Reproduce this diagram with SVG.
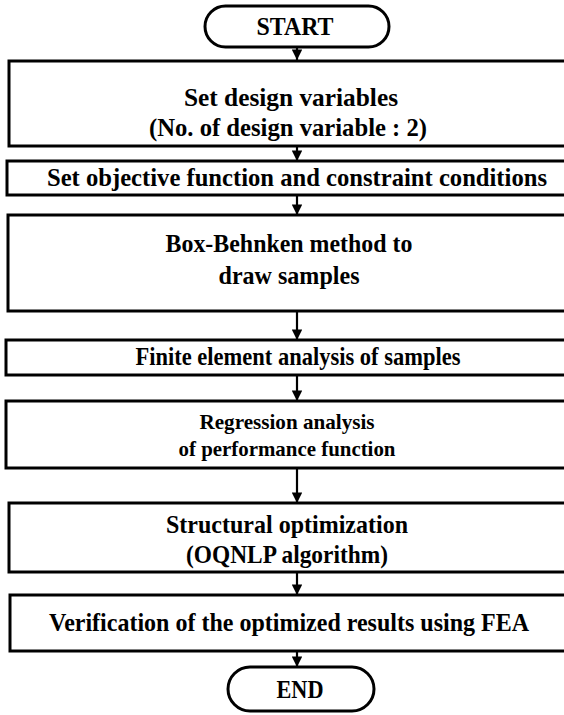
<svg xmlns="http://www.w3.org/2000/svg" width="564" height="715" viewBox="0 0 564 715">
<defs>
<style>
.box{fill:#fff;stroke:#000;stroke-width:3}
.t{font-family:"Liberation Serif","Times New Roman",serif;font-weight:bold;font-size:24.5px;fill:#000;text-anchor:middle}
.s{font-size:22px}
.c{stroke:#000;stroke-width:2.2;fill:none}
</style>
<marker id="ah" viewBox="0 0 10 10" refX="10" refY="5" markerWidth="4.8" markerHeight="4.8" markerUnits="strokeWidth" orient="auto">
<path d="M0,0 L10,5 L0,10 Z" fill="#000"/>
</marker>
</defs>
<rect width="564" height="715" fill="#fff"/>
<g id="connectors">
<line class="c" x1="297" y1="47" x2="297" y2="60" marker-end="url(#ah)"/>
<line class="c" x1="297" y1="146" x2="297" y2="161" marker-end="url(#ah)"/>
<line class="c" x1="297" y1="195" x2="297" y2="215" marker-end="url(#ah)"/>
<line class="c" x1="297" y1="311" x2="297" y2="340" marker-end="url(#ah)"/>
<line class="c" x1="297" y1="375" x2="297" y2="401" marker-end="url(#ah)"/>
<line class="c" x1="297" y1="468" x2="297" y2="503" marker-end="url(#ah)"/>
<line class="c" x1="297" y1="572" x2="297" y2="595" marker-end="url(#ah)"/>
<line class="c" x1="297" y1="651" x2="297" y2="667" marker-end="url(#ah)"/>
</g>
<g id="start">
<rect class="box" x="205" y="6" width="184" height="41" rx="20.5"/>
<text class="t" x="295" y="35" textLength="77" lengthAdjust="spacingAndGlyphs">START</text>
</g>
<g id="n1">
<rect class="box" x="9" y="61" width="600" height="85"/>
<text class="t" x="291" y="106" textLength="214" lengthAdjust="spacingAndGlyphs">Set design variables</text>
<text class="t" x="288" y="136" textLength="278" lengthAdjust="spacingAndGlyphs">(No. of design variable : 2)</text>
</g>
<g id="n2">
<rect class="box" x="7" y="161" width="600" height="34"/>
<text class="t" x="297" y="186" textLength="500" lengthAdjust="spacingAndGlyphs">Set objective function and constraint conditions</text>
</g>
<g id="n3">
<rect class="box" x="8" y="215" width="600" height="96"/>
<text class="t" x="289" y="252" textLength="247" lengthAdjust="spacingAndGlyphs">Box-Behnken method to</text>
<text class="t" x="289" y="284" textLength="141" lengthAdjust="spacingAndGlyphs">draw samples</text>
</g>
<g id="n4">
<rect class="box" x="6" y="340" width="600" height="35"/>
<text class="t" x="298" y="365" textLength="325" lengthAdjust="spacingAndGlyphs">Finite element analysis of samples</text>
</g>
<g id="n5">
<rect class="box" x="6" y="401" width="600" height="67"/>
<text class="t s" x="287" y="429" textLength="175" lengthAdjust="spacingAndGlyphs">Regression analysis</text>
<text class="t s" x="287" y="456" textLength="217" lengthAdjust="spacingAndGlyphs">of performance function</text>
</g>
<g id="n6">
<rect class="box" x="9" y="503" width="600" height="69"/>
<text class="t" x="287" y="533" textLength="242" lengthAdjust="spacingAndGlyphs">Structural optimization</text>
<text class="t" x="287" y="563" textLength="202" lengthAdjust="spacingAndGlyphs">(OQNLP algorithm)</text>
</g>
<g id="n7">
<rect class="box" x="10" y="595" width="600" height="56"/>
<text class="t" x="289" y="631" textLength="480" lengthAdjust="spacingAndGlyphs">Verification of the optimized results using FEA</text>
</g>
<g id="end">
<rect class="box" x="228" y="667" width="146" height="44" rx="22"/>
<text class="t" x="300" y="698" textLength="47" lengthAdjust="spacingAndGlyphs">END</text>
</g>
</svg>
